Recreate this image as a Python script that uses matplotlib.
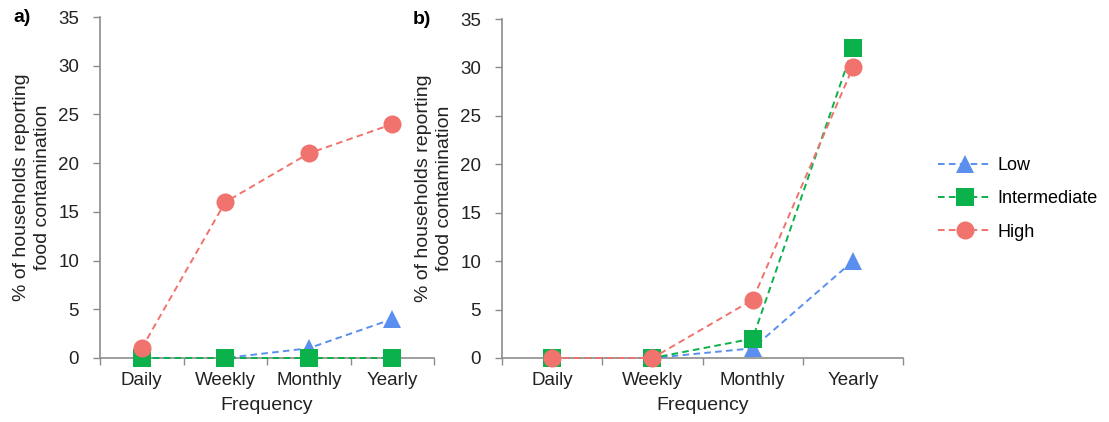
import matplotlib.pyplot as plt
from matplotlib.lines import Line2D

plt.rcParams['font.family'] = ['Liberation Sans', 'DejaVu Sans']

# --- datos ---
frecuencias = ['Daily', 'Weekly', 'Monthly', 'Yearly']
grupos = ['Low', 'Intermediate', 'High']

a_low = [0, 0, 1, 4]
a_intermediate = [0, 0, 0, 0]
a_high = [1, 16, 21, 24]

b_low = [0, 0, 1, 10]
b_intermediate = [0, 0, 2, 32]
b_high = [0, 0, 6, 30]

colores = {'Low': '#5B8FEF', 'Intermediate': '#0BB14A', 'High': '#F0736E'}
marcadores = {'Low': ('^', 13), 'Intermediate': ('s', 12.5), 'High': ('o', 13)}
GRIS = '#8C8C8C'
GUION = (0, (3.4, 2.2))
GROSOR = 1.4

fig = plt.figure(figsize=(11.09, 4.22), dpi=100)
ax_a = fig.add_axes([100 / 1109, 64 / 422, 334 / 1109, 341 / 422])
ax_b = fig.add_axes([502 / 1109, 64 / 422, 401 / 1109, 339 / 422])


def dibujar(ax, series, letra, x_letra):
    x = list(range(len(frecuencias)))
    for nombre, valores in zip(grupos, series):
        m, ms = marcadores[nombre]
        ax.plot(x, valores, linestyle=GUION, color=colores[nombre], linewidth=GROSOR,
                marker=m, markersize=ms, markeredgewidth=0, clip_on=False, zorder=3)
    ax.set_xlim(-0.5, 3.5)
    ax.set_ylim(0, 35)
    ax.set_yticks(range(0, 36, 5))
    ax.set_xticks([-0.5, 0.5, 1.5, 2.5, 3.5])
    ax.set_xticklabels([])
    ax.set_xticks(x, minor=True)
    ax.set_xticklabels(frecuencias, minor=True)
    ax.tick_params(axis='x', which='minor', length=0, pad=10, labelsize=13.5, colors='#222222')
    ax.tick_params(axis='x', which='major', length=5, width=1, color=GRIS, direction='out')
    ax.tick_params(axis='y', length=5, width=1, color=GRIS, labelsize=13.5, pad=10,
                   labelcolor='#222222')
    for lado in ['top', 'right']:
        ax.spines[lado].set_visible(False)
    for lado in ['left', 'bottom']:
        ax.spines[lado].set_color(GRIS)
        ax.spines[lado].set_linewidth(1.2)
    ax.set_xlabel('Frequency', fontsize=14, labelpad=6, color='#222222')
    ax.set_ylabel('% of households reporting\nfood contamination', fontsize=14,
                  labelpad=5, color='#222222', linespacing=1.3)
    ax.text(x_letra, 1.0, letra, transform=ax.transAxes, fontsize=14, fontweight='bold',
            va='center', ha='left')


dibujar(ax_a, [a_low, a_intermediate, a_high], 'a)', -0.26)
dibujar(ax_b, [b_low, b_intermediate, b_high], 'b)', -0.222)

handles = [Line2D([0], [0], linestyle=GUION, color=colores[g], linewidth=GROSOR,
                  marker=marcadores[g][0], markersize=marcadores[g][1], markeredgewidth=0)
           for g in grupos]
fig.legend(handles, grupos, loc='center left', bbox_to_anchor=(922 / 1109, 1 - 199 / 422),
           frameon=False, fontsize=13, handlelength=3.0, labelspacing=0.9,
           handletextpad=0.3)

fig.savefig('out.png', dpi=100)
